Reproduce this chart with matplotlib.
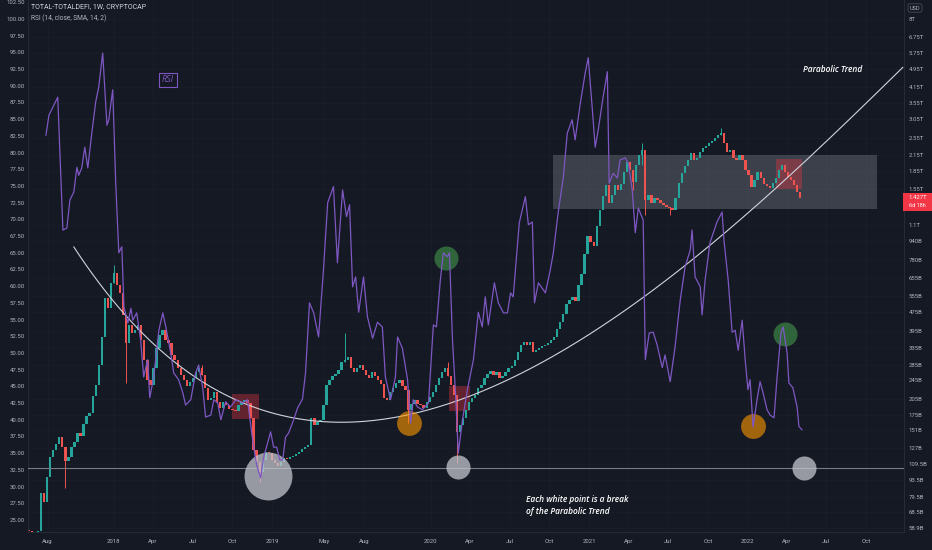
import numpy as np
import pandas as pd
import matplotlib
matplotlib.use("Agg")
import matplotlib.pyplot as plt
import matplotlib.dates as mdates
from matplotlib.patches import Rectangle
from matplotlib.ticker import NullLocator

# ---------------- data ----------------
start_date = "2017-06-19"          # first weekly candle
first_open = 58.0                   # B USD

close_b = [
    57.2, 56.1, 56.7, 57.2, 82.6, 75.7, 96.3, 116.7, 125, 132.3,
    141.7, 128.5, 112.4, 116.7, 128.5, 135.4, 147.4, 143.1, 160.6, 173.3,
    178.4, 210.5, 234, 284, 371.6, 542.5, 492, 626, 690, 614,
    569, 460, 350.7, 418, 386.5, 398, 418, 361, 298, 246,
    234, 276, 334.5, 379, 398, 361, 350.7, 313, 298, 276,
    258, 246, 231.8, 241, 251, 265.8, 276, 258, 227.4, 203,
    207, 218.7, 199, 187.6, 199, 193, 185.8, 184, 182.2, 193,
    199, 203, 197.2, 170.1, 125, 111.3, 101, 113.5, 122.6, 121.4,
    113.5, 110.2, 107, 111.3, 115.6, 114.5, 116.7, 117.9, 120.2, 122.6,
    126.2, 128.5, 131, 170.1, 159, 163.8, 167, 193, 234, 246,
    255.6, 260.6, 271, 292.3, 298, 307, 276, 265.8, 276, 284,
    271, 258, 251, 265.8, 255.6, 246, 236.3, 207, 203, 218.7,
    227.4, 238.6, 246, 231.8, 223, 184, 195.1, 203, 195.1, 193,
    187.6, 199, 208.5, 218.7, 234, 251, 265.8, 276, 255.6, 234,
    212.5, 148.9, 159, 170.1, 184, 199, 207, 212.5, 227.4, 234,
    251, 260.6, 268.4, 258, 265.8, 251, 255.6, 265.8, 276, 281.3,
    298, 321.7, 344, 354.1, 344, 354.1, 321.7, 328, 334.5, 340.7,
    344, 350.7, 361, 371.6, 401.9, 429.6, 464.5, 512, 532, 547.3,
    527, 614, 682.6, 828, 985.5, 930, 894, 1085.5, 1268, 1451,
    1613, 1355, 1465, 1613, 1537, 1629, 1829, 2014, 1865, 1660,
    1957, 2155, 2262, 1395, 1465, 1355, 1423, 1395, 1355, 1330,
    1304, 1292, 1268, 1423, 1645, 1811, 1938, 2053, 2197, 2053,
    2093, 2218, 2306, 2351, 2420, 2466, 2539, 2613, 2664, 2420,
    2218, 2262, 2093, 2053, 2155, 2053, 1865, 1776, 1582, 1693,
    1829, 1726, 1629, 1598, 1567, 1645, 1726, 1865, 1957, 1829,
    1742, 1693, 1613, 1507, 1427,
]

wick_week = [12, 28, 32, 57, 76, 104, 125, 138, 141, 199, 202, 203, 211, 228]
wick_high = [128.5, 745, 460, 284, 111.3, 386.5, 223, 292.3, 212.5, 1865, 2420, 2262, 1304, 2797]
wick_low = [86.5, 626, 238.6, 258, 91.8, 292.3, 162.1, 255.6, 110.2, 1537, 1957, 1207, 1207, 2613]

rsi_week = [
    5.6, 6.6, 8.2, 9.5, 11.2, 12.5, 13.5, 14.8, 15.8, 16.4, 17.4, 18.4, 19.4, 20.7, 22.0,
    23.0, 24.3, 25.7, 26.3, 27.6, 28.6, 29.6, 30.6, 31.3, 32.6, 33.6, 34.2, 35.5, 36.8, 37.8,
    39.1, 39.8, 41.1, 42.8, 44.1, 45.1, 46.7, 47.7, 49.3, 50.7, 51.6, 53.3, 54.9, 55.9, 57.2,
    58.2, 59.9, 60.9, 62.2, 63.2, 64.8, 66.4, 68.1, 70.4, 72.0, 73.7, 75.0, 76.3, 77.3, 78.6,
    79.6, 80.6, 81.6, 82.6, 83.6, 84.5, 85.5, 87.2, 88.5, 90.1, 91.1, 92.4, 93.8, 95.4, 97.0,
    98.4, 100.3, 101.6, 103.3, 104.6, 105.6, 106.6, 107.6, 108.6, 110.2, 111.5, 113.2, 114.8, 116.4, 117.4,
    119.1, 120.7, 121.4, 123.0, 124.7, 125.7, 126.6, 128.0, 129.6, 131.6, 133.2, 134.2, 135.5, 136.5, 137.8,
    138.5, 139.5, 140.5, 141.4, 142.8, 144.4, 146.4, 148.0, 149.3, 150.3, 151.3, 153.3, 154.6, 156.3, 157.6,
    158.6, 159.5, 161.5, 163.5, 164.5, 165.8, 166.5, 167.8, 170.1, 171.7, 172.7, 174.3, 176.0, 177.3, 178.9,
    179.9, 181.6, 183.2, 184.2, 185.5, 186.5, 187.5, 189.1, 190.5, 191.1, 192.4, 193.8, 194.7, 196.4, 197.4,
    198.7, 199.7, 200.7, 202.3, 203.0, 204.3, 205.6, 206.9, 208.6, 209.5, 211.2, 212.8, 214.5, 216.1, 217.8,
    218.4, 219.4, 221.1, 221.7, 222.7, 224.3, 226.6, 228.3, 228.9, 230.3, 231.6, 232.6, 233.6, 234.9, 235.9,
    236.8, 237.5, 238.5, 239.8, 240.8, 241.8, 243.1, 244.1, 245.4, 246.4, 247.7, 248.4, 249.7, 250.3, 251.6,
    253.0, 253.6, 254.6,
]
rsi_value = [
    82.6, 85.6, 87.1, 88.3, 68.4, 68.7, 72.9, 74.1, 77.8, 76.6, 77.7, 80.8, 77.7, 82.9, 87.6,
    89.8, 94.9, 84.1, 84.9, 89.4, 75.4, 65.0, 65.9, 56.9, 54.5, 56.7, 54.9, 56.0, 51.9, 46.4,
    49.0, 43.3, 46.4, 53.4, 56.0, 53.9, 50.0, 47.0, 46.0, 44.0, 42.2, 43.0, 47.0, 48.2, 44.9,
    40.4, 40.7, 43.0, 42.5, 40.0, 42.7, 41.9, 43.0, 42.5, 43.0, 36.9, 33.2, 31.3, 34.4, 36.5,
    38.2, 35.9, 35.9, 34.0, 34.0, 37.4, 38.0, 40.0, 41.8, 43.1, 47.0, 57.5, 56.0, 52.4, 62.4,
    72.5, 74.9, 63.5, 74.4, 70.4, 72.2, 59.9, 61.4, 56.1, 61.4, 55.4, 52.2, 54.6, 53.9, 46.4,
    43.0, 46.4, 52.4, 50.7, 46.0, 39.5, 43.0, 41.9, 41.5, 42.5, 54.2, 53.9, 60.9, 65.0, 64.4,
    65.0, 51.9, 44.0, 35.0, 40.0, 44.5, 49.0, 56.1, 53.9, 58.4, 54.2, 60.5, 57.5, 56.0, 56.0,
    59.0, 58.4, 69.5, 73.4, 69.2, 69.6, 57.5, 60.5, 59.0, 62.4, 65.0, 71.0, 76.3, 82.9, 84.9,
    81.9, 87.4, 91.9, 94.2, 86.8, 80.8, 83.4, 88.3, 92.1, 75.4, 76.9, 76.2, 78.9, 79.2, 78.4,
    74.4, 68.0, 71.7, 69.9, 49.0, 53.0, 53.1, 51.2, 47.8, 49.7, 45.7, 50.9, 57.9, 62.9, 65.4,
    68.4, 61.4, 59.9, 55.7, 60.9, 66.5, 69.6, 71.1, 66.9, 60.9, 53.1, 53.4, 50.4, 54.9, 49.0,
    44.5, 46.0, 38.9, 43.0, 45.7, 44.0, 41.5, 40.7, 40.3, 46.4, 53.1, 53.9, 50.0, 45.5, 44.8,
    41.9, 39.0, 38.5,
]

# hand-drawn parabolic trend (anchor points: week, price in B)
curve_week = [14.8, 25.3, 31.9, 47.4, 64.8, 79.6, 96.1, 112.5, 125.7, 145.4, 165.1, 183.9, 202.3, 227.6, 249.7, 270.4, 287.8]
curve_price = [887, 569, 469, 292, 212.5, 178.7, 167, 167, 175, 208.5, 276, 379, 542, 976, 1745, 3020, 5035]

# annotation markers on RSI scale
marker_week = [78.9, 141.4, 255.3, 125.3, 238.5, 137.5, 249.0]
marker_rsi = [31.6, 32.9, 32.8, 39.5, 39.1, 64.2, 52.8]
marker_kind = ["big", "gray", "gray", "orange", "orange", "green", "green"]
break_level_rsi = 32.8

# zones: (week start, week end, price low, price high)
range_zone = (172.7, 279.3, 1280, 2155)
red_zones = [(66.8, 75.7, 168.6, 214.6), (138.2, 145.4, 182.2, 231.8), (246.0, 254.6, 1552, 2073)]

price_ticks = [8000, 6750, 5750, 4950, 4150, 3550, 3050, 2550, 2150, 1850, 1550, 1100, 940, 780, 655,
               555, 475, 395, 335, 285, 245, 205, 175, 151, 127, 109.5, 93.5, 79.5, 68.5, 58.9]
price_labels = ["8T", "6.75T", "5.75T", "4.95T", "4.15T", "3.55T", "3.05T", "2.55T", "2.15T", "1.85T",
                "1.55T", "1.1T", "940B", "780B", "655B", "555B", "475B", "395B", "335B", "285B",
                "245B", "205B", "175B", "151B", "127B", "109.5B", "93.5B", "79.5B", "68.5B", "58.9B"]
rsi_ticks = list(np.arange(25, 102.51, 2.5))

date_ticks = ["2017-08-01", "2018-01-01", "2018-04-01", "2018-07-01", "2018-10-01", "2019-01-01",
              "2019-05-01", "2019-08-01", "2020-01-01", "2020-04-01", "2020-07-01", "2020-10-01",
              "2021-01-01", "2021-04-01", "2021-07-01", "2021-10-01", "2022-01-01", "2022-04-01",
              "2022-07-01", "2022-10-01"]
date_labels = ["Aug", "2018", "Apr", "Jul", "Oct", "2019", "May", "Aug", "2020", "Apr", "Jul", "Oct",
               "2021", "Apr", "Jul", "Oct", "2022", "Apr", "Jul", "Oct"]

# ---------------- style ----------------
W, H = 932, 550
BG = "#151924"
GREEN = "#26a69a"
RED = "#ef5350"
PURPLE = "#7e57c2"
TXT = "#b2b5be"
plt.rcParams["font.family"] = ["Roboto", "DejaVu Sans"]

fig = plt.figure(figsize=(W / 100, H / 100), dpi=100)
fig.patch.set_facecolor(BG)
ax = fig.add_axes([28 / W, 18 / H, 876 / W, 532 / H])
ax.set_facecolor(BG)
ax.set_yscale("log")
ax.set_ylim(56.7, 9610)

x0 = mdates.date2num(pd.Timestamp(start_date))
def wx(w):
    return x0 + np.asarray(w, dtype=float) * 7.0

ax.set_xlim(wx(-0.3), wx(288.2))

# zones
z = range_zone
ax.add_patch(Rectangle((wx(z[0]), z[2]), wx(z[1]) - wx(z[0]), z[3] - z[2],
                       facecolor="#b2b5be", alpha=0.25, lw=0, zorder=1))
for z in red_zones:
    ax.add_patch(Rectangle((wx(z[0]), z[2]), wx(z[1]) - wx(z[0]), z[3] - z[2],
                           facecolor="#f23645", alpha=0.35, lw=0, zorder=1))

# candles
c = np.array(close_b, dtype=float)
o = np.concatenate([[first_open], c[:-1]])
xs = wx(np.arange(len(c)))
up = c >= o
lo = np.minimum(o, c)
hi = np.maximum(o, c)
hi = np.where(hi / lo < 1.008, lo * 1.008, hi)
cols = np.where(up, GREEN, RED)
ax.bar(xs, hi - lo, bottom=lo, width=5.4, color=cols, linewidth=0, zorder=2)
ww = np.array(wick_week)
ax.vlines(xs[ww], wick_low, wick_high, colors=cols[ww], lw=0.7, zorder=2)

# parabolic curve
u = (np.array(curve_week) - 150.0) / 150.0
coef = np.polyfit(u, np.log(curve_price), 5)
wd = np.linspace(curve_week[0], curve_week[-1], 400)
ax.plot(wx(wd), np.exp(np.polyval(coef, (wd - 150.0) / 150.0)), color="#d1d4dc", lw=0.8, zorder=3)

# x axis
ax.set_xticks(mdates.date2num(pd.to_datetime(date_ticks)))
ax.set_xticklabels(date_labels)
ax.tick_params(axis="x", length=0, labelsize=4.3, labelcolor=TXT, pad=5)
ax.grid(True, color="#1b1f2b", lw=0.5)
ax.set_axisbelow(True)
for s in ["left", "right", "bottom"]:
    ax.spines[s].set_color("#2a2e39")
    ax.spines[s].set_linewidth(0.6)
ax.spines["top"].set_visible(False)

# RSI overlay (left scale)
ar = ax.twinx()
ar.set_ylim(23.2, 102.84)
ar.yaxis.tick_left()
ar.yaxis.set_label_position("left")
ar.set_yticks(rsi_ticks)
ar.set_yticklabels([f"{v:.2f}" for v in rsi_ticks])
ar.tick_params(axis="y", length=0, labelsize=4.3, labelcolor=TXT, pad=2.5)
for s in ar.spines.values():
    s.set_visible(False)

# price scale on the right (after twinx, which moves ticks)
ax.yaxis.tick_right()
ax.yaxis.set_label_position("right")
ax.set_yticks(price_ticks)
ax.set_yticklabels(price_labels)
ax.yaxis.set_minor_locator(NullLocator())
ax.tick_params(axis="y", which="both", length=0, labelsize=4.3, labelcolor=TXT, pad=3.5,
               left=False, labelleft=False, right=True, labelright=True)

ar.axhline(break_level_rsi, color="#787b86", lw=0.8, zorder=2)

kind_style = {
    "big": ("#c3c5cc", 0.75, 1190),
    "gray": ("#c3c5cc", 0.75, 300),
    "orange": ("#ff9800", 0.6, 320),
    "green": ("#4caf50", 0.5, 300),
}
for w_, v_, k_ in zip(marker_week, marker_rsi, marker_kind):
    col, al, sz = kind_style[k_]
    ar.scatter([wx(w_)], [v_], s=sz, color=col, alpha=al, lw=0, zorder=3)

ar.plot(wx(rsi_week), rsi_value, color=PURPLE, lw=0.9, zorder=4)

# ---------------- texts ----------------
def fx(px):
    return px / W
def fy(py):
    return 1 - py / H

fig.text(fx(31), fy(6.5), "TOTAL-TOTALDEFI, 1W, CRYPTOCAP", color="#d1d4dc", fontsize=5.0,
         ha="left", va="center")
fig.text(fx(31), fy(18.5), "RSI (14, close, SMA, 14, 2)", color=TXT, fontsize=4.8,
         ha="left", va="center")
fig.text(fx(168), fy(80), "RSI", color=PURPLE, fontsize=6.5, style="italic", ha="center", va="center",
         family=["Open Sans", "DejaVu Sans"],
         bbox=dict(boxstyle="square,pad=0.3", fc="none", ec=PURPLE, lw=0.8))
ann = dict(color="white", fontsize=6.0, style="italic", weight="semibold",
           family=["Open Sans", "DejaVu Sans"], ha="left", va="center")
fig.text(fx(803), fy(69.5), "Parabolic Trend", **ann)
fig.text(fx(526), fy(500), "Each white point is a break", **ann)
fig.text(fx(526), fy(511), "of the Parabolic Trend", **ann)

# last price tag
fig.patches.append(Rectangle((fx(903), fy(211)), 29 / W, 18 / H, transform=fig.transFigure,
                             facecolor="#f23645", lw=0))
fig.text(fx(917.5), fy(197.5), "1.427T", color="white", fontsize=4.3, ha="center", va="center")
fig.text(fx(917.5), fy(205.5), "6d 18h", color="white", fontsize=4.0, ha="center", va="center")

# currency tag
fig.text(fx(915), fy(8), "USD", color=TXT, fontsize=4.0, ha="center", va="center",
         bbox=dict(boxstyle="round,pad=0.3", fc=BG, ec="#50535e", lw=0.5))

fig.savefig("out.png", dpi=100, facecolor=BG)
